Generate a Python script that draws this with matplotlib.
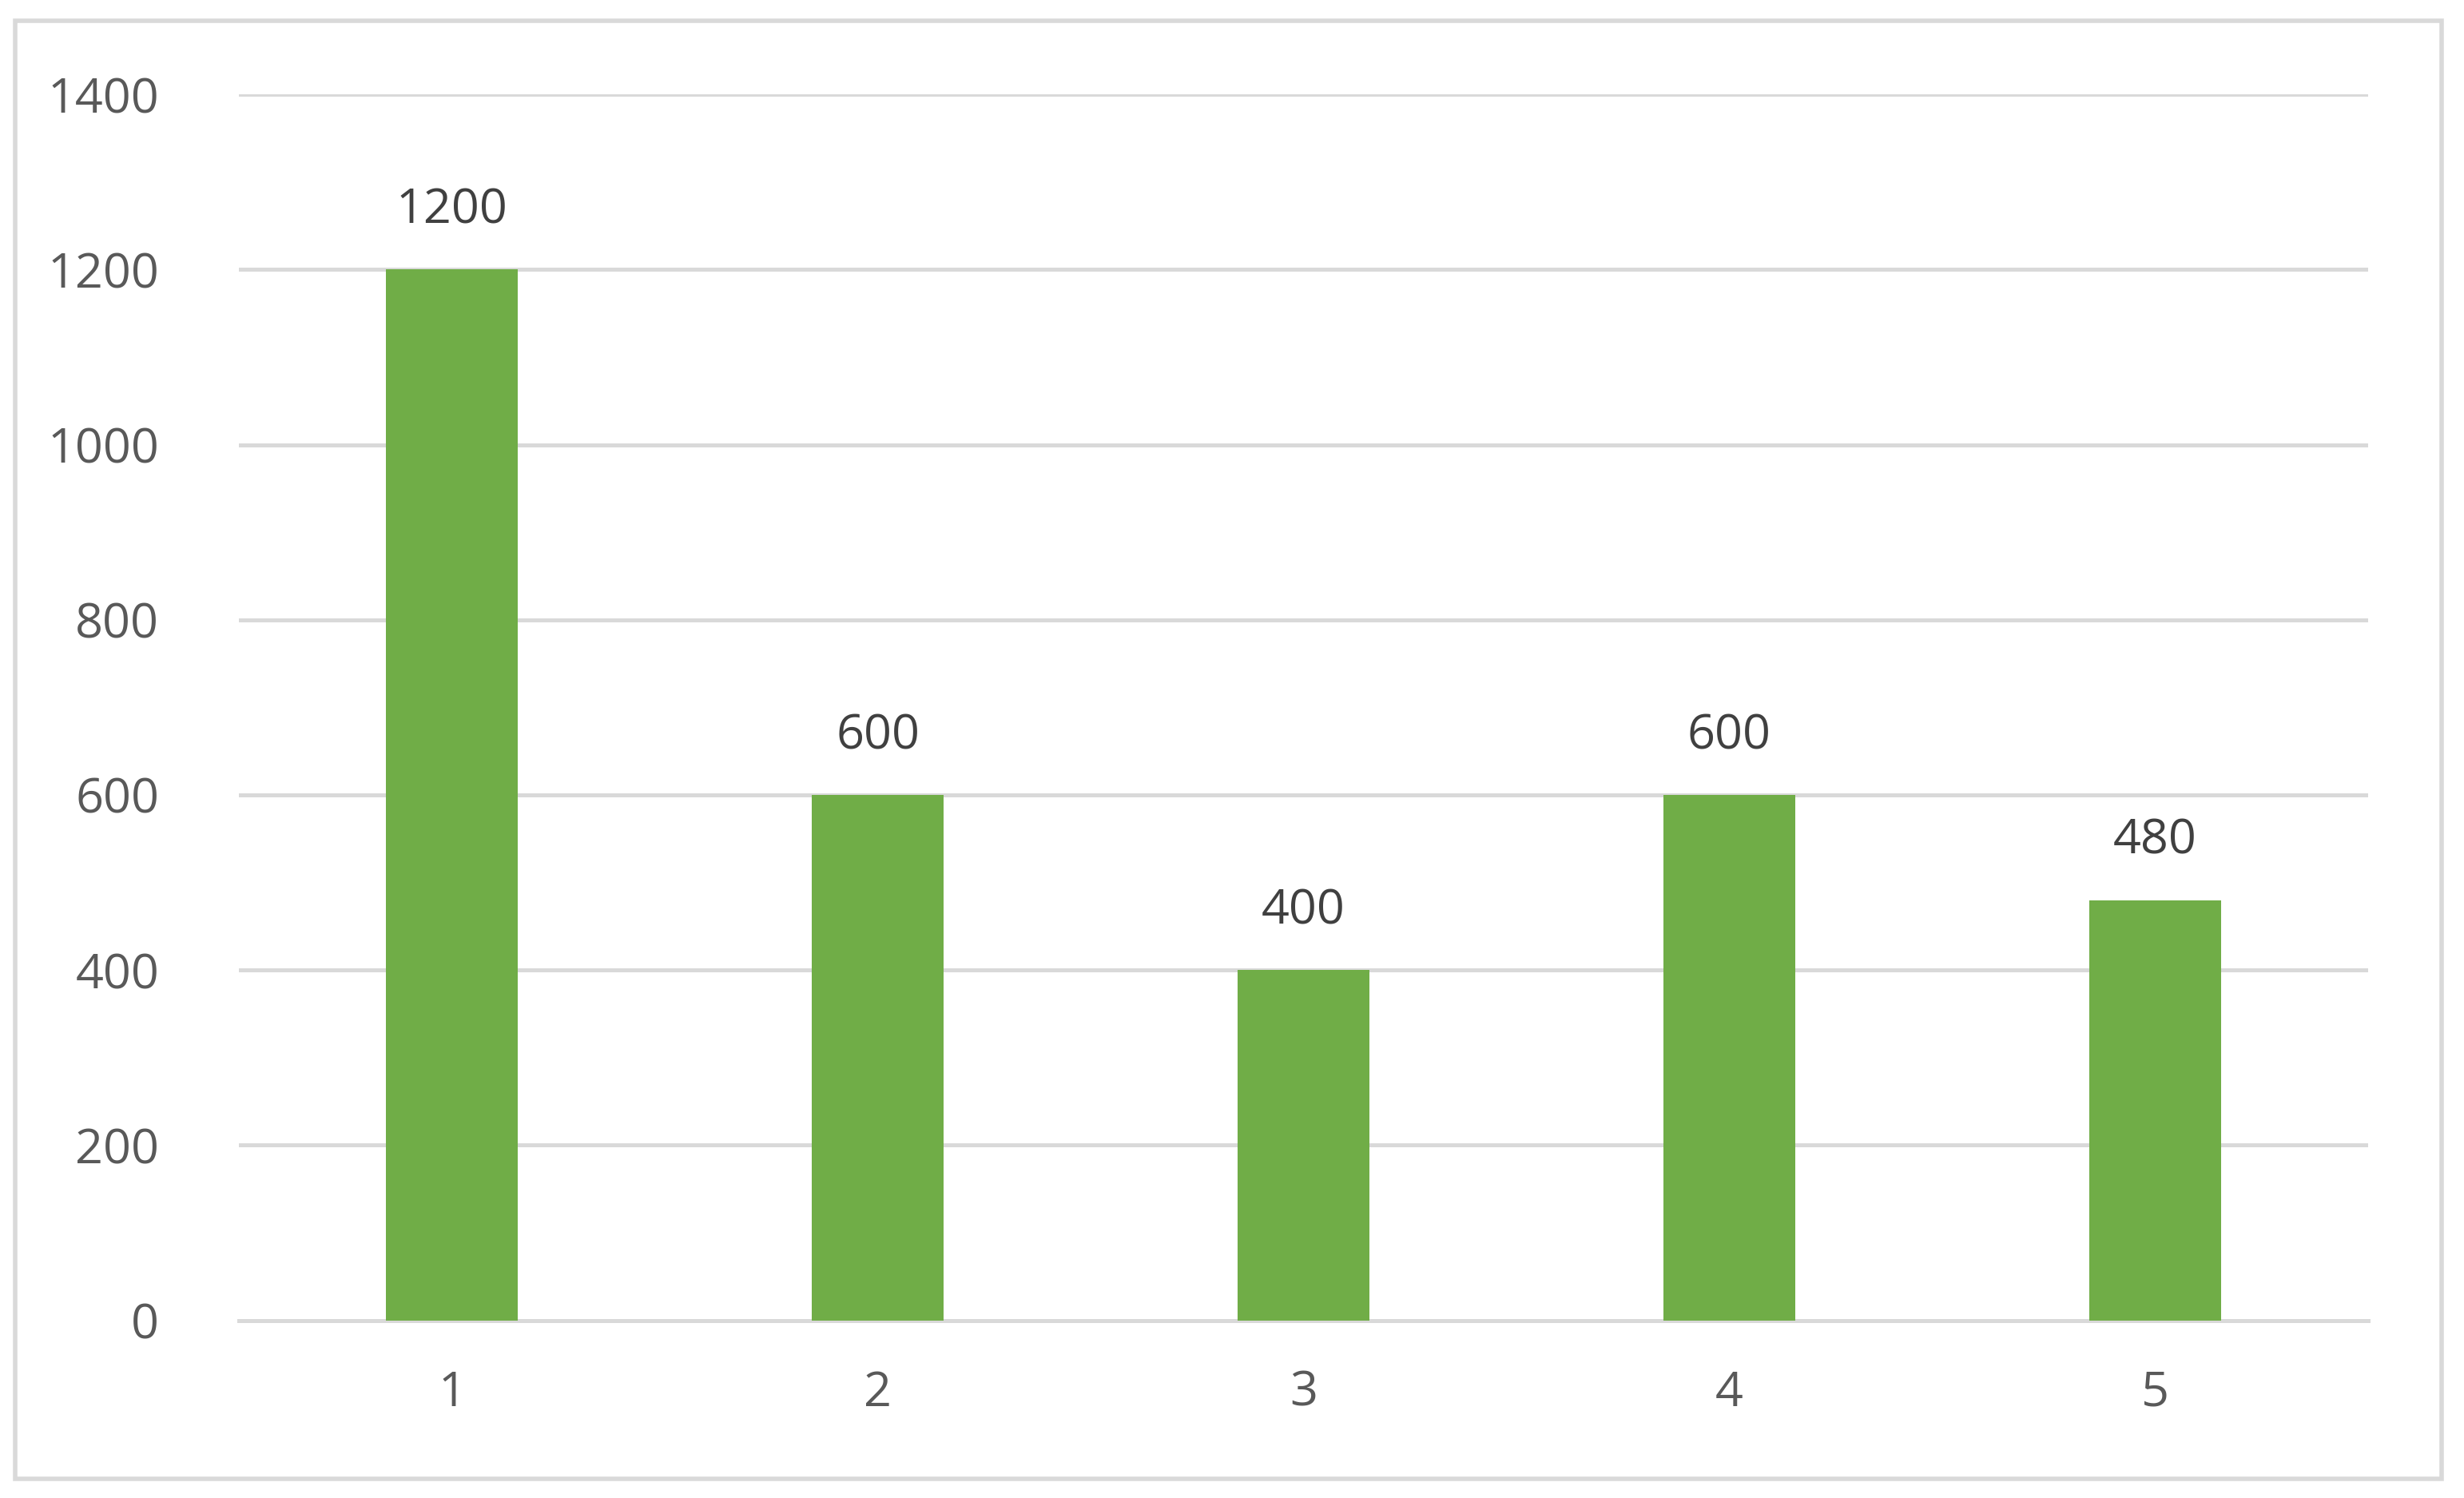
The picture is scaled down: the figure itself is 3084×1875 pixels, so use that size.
import matplotlib
matplotlib.use("Agg")
import matplotlib.pyplot as plt
from matplotlib.patches import Rectangle

categories = ["1", "2", "3", "4", "5"]
values = [1200, 600, 400, 600, 480]

plt.rcParams['font.family'] = ['Open Sans', 'DejaVu Sans']
fig = plt.figure(figsize=(15.42, 9.375), dpi=200)
fig.patches.append(Rectangle((0.006, 0.013), 0.985, 0.973, transform=fig.transFigure,
                             fill=False, edgecolor='#d9d9d9', linewidth=2))
ax = fig.add_axes([0.097, 0.1186, 0.864, 0.8184])
x = range(len(categories))
bars = ax.bar(x, values, width=0.31, color='#70AD47', zorder=3)
for xi, v in zip(x, values):
    ax.text(xi, v + 40, str(v), ha='center', va='bottom', fontsize=22, color='#404040')
ax.set_xlim(-0.5, 4.5)
ax.set_ylim(0, 1400)
ax.set_yticks(range(0, 1401, 200))
ax.set_xticks(list(x))
ax.set_xticklabels(categories)
ax.grid(axis='y', color='#d9d9d9', linewidth=1.8, zorder=0)
for s in ['top', 'right', 'left']:
    ax.spines[s].set_visible(False)
ax.spines['bottom'].set_color('#d9d9d9')
ax.spines['bottom'].set_linewidth(1.8)
ax.tick_params(length=0, labelsize=22, labelcolor='#595959')
ax.tick_params(axis='y', pad=36)
ax.tick_params(axis='x', pad=22)
fig.savefig("out.png", dpi=200)
